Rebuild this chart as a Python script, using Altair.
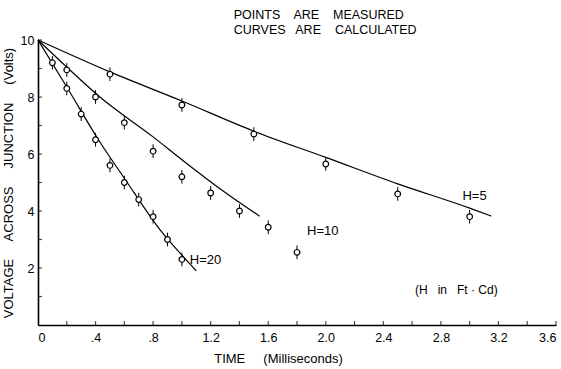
import altair as alt
import pandas as pd

# measured points
h20_t = [0.1, 0.2, 0.3, 0.4, 0.5, 0.6, 0.7, 0.8, 0.9, 1.0]
h20_v = [9.2, 8.3, 7.4, 6.5, 5.6, 5.0, 4.4, 3.8, 3.0, 2.3]
h10_t = [0.2, 0.4, 0.6, 0.8, 1.0, 1.2, 1.4, 1.6, 1.8]
h10_v = [8.95, 8.0, 7.1, 6.1, 5.2, 4.63, 4.0, 3.43, 2.55]
h5_t = [0.5, 1.0, 1.5, 2.0, 2.5, 3.0]
h5_v = [8.8, 7.72, 6.7, 5.65, 4.6, 3.8]
err = 0.24

# calculated curves
c20_t = [0.0, 0.2, 0.43, 0.6, 0.85, 1.0, 1.10]
c20_v = [10.0, 8.35, 6.42, 5.15, 3.33, 2.45, 1.9]
c10_t = [0.0, 0.2, 0.43, 0.8, 1.0, 1.26, 1.54]
c10_v = [10.0, 9.05, 8.0, 6.6, 5.8, 4.8, 3.82]
c5_t = [0.0, 0.5, 1.0, 1.5, 2.0, 2.5, 3.0, 3.15]
c5_v = [10.0, 8.88, 7.86, 6.8, 5.88, 4.95, 4.1, 3.82]

x_tick_vals = [round(0.2 * i, 1) for i in range(1, 19)]
x_label_vals = [0, 0.4, 0.8, 1.2, 1.6, 2.0, 2.4, 2.8, 3.2, 3.6]
y_tick_vals = list(range(1, 11))
y_label_vals = [2, 4, 6, 8, 10]

labels_text = ["H=20", "H=10", "H=5", "(H\u00a0\u00a0 in\u00a0\u00a0 Ft\u00a0\u00b7\u00a0Cd)"]
labels_t = [1.055, 1.87, 2.95, 2.62]
labels_v = [2.28, 3.3, 4.53, 1.23]
labels_size = [13, 13, 13, 12]

note_text = ["POINTS\u00a0\u00a0\u00a0 ARE\u00a0\u00a0\u00a0 MEASURED", "CURVES\u00a0\u00a0 ARE\u00a0\u00a0\u00a0 CALCULATED"]
note_t = [1.36, 1.36]
note_v = [10.88, 10.36]

FONT = "Liberation Sans"

pts = pd.DataFrame({
    "t": h20_t + h10_t + h5_t,
    "v": h20_v + h10_v + h5_v,
})
pts["lo"] = pts["v"] - err
pts["hi"] = pts["v"] + err

curves = pd.DataFrame({
    "t": c20_t + c10_t + c5_t,
    "v": c20_v + c10_v + c5_v,
    "H": ["20"] * len(c20_t) + ["10"] * len(c10_t) + ["5"] * len(c5_t),
})

xs = alt.Scale(domain=[0, 3.6], nice=False, zero=False)
ys = alt.Scale(domain=[0, 10], nice=False, zero=False)

label_expr = "datum.value == 0 ? '0' : (datum.value < 1 ? replace(format(datum.value, '.1f'), '0.', '.') : format(datum.value, '.1f'))"

x_enc = alt.X("t:Q", scale=xs, axis=alt.Axis(
    values=x_label_vals, labelExpr=label_expr, ticks=False, grid=False,
    title="TIME\u00a0\u00a0\u00a0\u00a0 (Milliseconds)", titleX=240, titleY=27,
    titleFontWeight="normal", titleFontSize=13, titleFont=FONT,
    labelFont=FONT, labelFontSize=12.5, labelPadding=6, labelColor="black",
    domainColor="black", domainWidth=1.6, titleColor="black"))
y_enc = alt.Y("v:Q", scale=ys, axis=alt.Axis(
    values=y_label_vals, ticks=False, grid=False,
    title="VOLTAGE\u00a0\u00a0\u00a0\u00a0 ACROSS\u00a0\u00a0\u00a0\u00a0 JUNCTION\u00a0\u00a0\u00a0\u00a0 (Volts)",
    titleFontWeight="normal", titleFontSize=13, titleFont=FONT, titlePadding=5,
    labelFont=FONT, labelFontSize=12.5, labelPadding=4, labelColor="black",
    domainColor="black", domainWidth=1.6, titleColor="black"))

lines = alt.Chart(curves).mark_line(color="black", strokeWidth=1.2, interpolate="monotone").encode(
    x=x_enc, y=y_enc, detail="H:N")

bars = alt.Chart(pts).mark_rule(color="black", strokeWidth=1).encode(
    x=alt.X("t:Q", scale=xs), y=alt.Y("lo:Q", scale=ys), y2="hi:Q")

circles = alt.Chart(pts).mark_point(shape="circle", filled=True, fill="white", stroke="black",
                                    strokeWidth=1.2, size=32, opacity=1).encode(
    x=alt.X("t:Q", scale=xs), y=alt.Y("v:Q", scale=ys))

xt = alt.Chart(pd.DataFrame({"t": x_tick_vals})).mark_tick(
    orient="vertical", size=4, thickness=1.2, color="black", yOffset=-2).encode(
    x=alt.X("t:Q", scale=xs), y=alt.datum(0, scale=ys))

yt = alt.Chart(pd.DataFrame({"v": y_tick_vals})).mark_tick(
    orient="horizontal", size=4, thickness=1.2, color="black", xOffset=2).encode(
    y=alt.Y("v:Q", scale=ys), x=alt.datum(0, scale=xs))

ann_df = pd.DataFrame({"txt": labels_text, "t": labels_t, "v": labels_v, "s": labels_size})
ann = alt.Chart(ann_df).mark_text(align="left", baseline="middle", font=FONT, color="black").encode(
    x=alt.X("t:Q", scale=xs), y=alt.Y("v:Q", scale=ys), text="txt:N",
    size=alt.Size("s:Q", scale=None, legend=None))

note_df = pd.DataFrame({"txt": note_text, "t": note_t, "v": note_v})
notes = alt.Chart(note_df).mark_text(align="left", baseline="middle", font=FONT, fontSize=12.5,
                                     color="black", clip=False).encode(
    x=alt.X("t:Q", scale=xs), y=alt.Y("v:Q", scale=ys), text="txt:N")

chart = alt.layer(lines, bars, circles, xt, yt, ann, notes).properties(
    width=518, height=285,
    autosize=alt.AutoSizeParams(type="none"),
    padding={"left": 38, "top": 40, "right": 5, "bottom": 44},
    background="white",
).configure_view(stroke=None)

chart.save("out.html", embed_options={"renderer": "svg", "actions": False})
